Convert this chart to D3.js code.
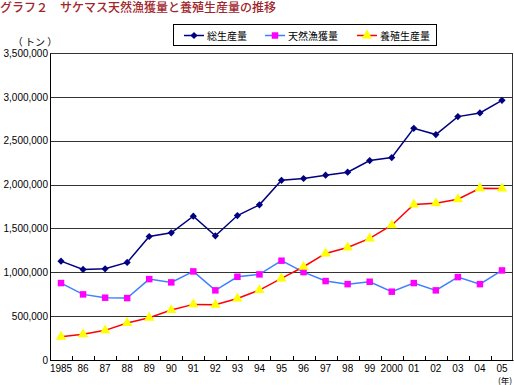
<!DOCTYPE html>
<html>
<head>
<meta charset="utf-8">
<script src="https://cdn.jsdelivr.net/npm/d3@7"></script>
<style>
  body { margin: 0; background: #fff; }
  svg { display: block; }
  .num { font-family: "Liberation Sans", Arial, sans-serif; font-size: 10px; fill: #000; }
  .jp { font-family: "Noto Sans CJK JP", sans-serif; }
</style>
</head>
<body>
<svg id="chart" width="514" height="385"></svg>
<script>
const years = ["1985","86","87","88","89","90","91","92","93","94","95","96","97","98","99","2000","01","02","03","04","05"];
const total = [1127000,1033000,1040000,1112000,1408000,1450000,1640000,1416000,1647000,1769000,2049000,2069000,2107000,2141000,2274000,2308000,2641000,2570000,2775000,2817000,2960000];
const wild = [877000,748000,710000,706000,922000,885000,1010000,794000,949000,976000,1132000,1002000,900000,865000,892000,779000,877000,794000,945000,865000,1021000];
const farmed = [265000,293000,338000,421000,482000,569000,634000,630000,702000,797000,930000,1063000,1215000,1283000,1386000,1537000,1773000,1788000,1833000,1958000,1955000];
const yTicks = [0,500000,1000000,1500000,2000000,2500000,3000000,3500000];
const seriesNames = ["総生産量","天然漁獲量","養殖生産量"];

const svg = d3.select("#chart");
const margin = {left: 50, right: 1, top: 53, bottom: 25};
const width = 514, height = 385;
const innerWidth = width - margin.left - margin.right;
const innerHeight = height - margin.top - margin.bottom;

// title
svg.append("text")
   .attr("class", "jp")
   .attr("x", 0).attr("y", 12)
   .attr("font-size", 12)
   .attr("font-weight", 500)
   .attr("fill", "#a0262c")
   .text("グラフ２　サケマス天然漁獲量と養殖生産量の推移");

svg.append("text")
   .attr("class", "jp")
   .attr("x", 35).attr("y", 46)
   .attr("font-size", 10)
   .attr("text-anchor", "middle")
   .text("（ トン ）");

const g = svg.append("g")
             .attr("transform", `translate(${margin.left}, ${margin.top})`);

const xScale = d3.scaleBand()
                 .domain(years)
                 .range([0, innerWidth]);
const xPos = d => xScale(d) + xScale.bandwidth() / 2;

const yScale = d3.scaleLinear()
                 .domain([0, 3500000])
                 .range([innerHeight, 0]);

// gridlines
g.selectAll(".grid")
 .data(yTicks)
 .enter()
 .append("line")
    .attr("x1", 0).attr("x2", innerWidth)
    .attr("y1", d => Math.round(yScale(d)) + 0.5)
    .attr("y2", d => Math.round(yScale(d)) + 0.5)
    .attr("stroke", "#333")
    .attr("stroke-width", 1);

// right border
g.append("line")
 .attr("x1", innerWidth - 0.5).attr("x2", innerWidth - 0.5)
 .attr("y1", 0).attr("y2", innerHeight)
 .attr("stroke", "#333");

// y axis
const yAxis = d3.axisLeft(yScale)
                .tickValues(yTicks)
                .tickSize(0)
                .tickPadding(2)
                .tickFormat(d3.format(","));
const yg = g.append("g").call(yAxis);
yg.select(".domain").attr("stroke", "#000");
yg.selectAll("text").attr("class", "num");

// x axis
const xAxis = d3.axisBottom(xScale).tickSize(0).tickPadding(5);
const xg = g.append("g")
            .attr("transform", `translate(0, ${innerHeight})`)
            .call(xAxis);
xg.select(".domain").attr("stroke", "#000");
xg.selectAll("text").attr("class", "num");

// category separators (ticks pointing up)
g.selectAll(".xtick")
 .data(years.slice(1))
 .enter()
 .append("line")
    .attr("x1", d => Math.round(xScale(d)) + 0.5)
    .attr("x2", d => Math.round(xScale(d)) + 0.5)
    .attr("y1", innerHeight - 4)
    .attr("y2", innerHeight)
    .attr("stroke", "#000");

svg.append("text")
   .attr("class", "jp")
   .attr("x", 505).attr("y", 384)
   .attr("font-size", 8.5)
   .attr("text-anchor", "middle")
   .text("(年)");

const line = d3.line()
               .x((d, i) => xPos(years[i]))
               .y(d => yScale(d));

const series = [
    {values: total, stroke: "#000080", fill: "#000080", symbol: d3.symbolSquare, size: 26, rotate: 45},
    {values: wild, stroke: "#3f7fff", fill: "#ff00ff", symbol: d3.symbolSquare, size: 42, rotate: 0},
    {values: farmed, stroke: "#ff0000", fill: "#ffff00", symbol: d3.symbolTriangle, size: 46, rotate: 0}
];

series.forEach(s => {
    g.append("path")
     .datum(s.values)
     .attr("fill", "none")
     .attr("stroke", s.stroke)
     .attr("stroke-width", 1.5)
     .attr("d", line);

    g.selectAll(null)
     .data(s.values)
     .enter()
     .append("path")
        .attr("d", d3.symbol().type(s.symbol).size(s.size))
        .attr("transform", (d, i) => `translate(${xPos(years[i])}, ${yScale(d)}) rotate(${s.rotate})`)
        .attr("fill", s.fill);
});

// legend
const legend = svg.append("g");
legend.append("rect")
      .attr("x", 173.5).attr("y", 24.5)
      .attr("width", 263).attr("height", 21)
      .attr("fill", "#fff")
      .attr("stroke", "#000");

const legendX = [184, 265, 357];
series.forEach((s, i) => {
    const lg = legend.append("g").attr("transform", `translate(${legendX[i]}, 35.5)`);
    lg.append("line")
      .attr("x1", 0).attr("x2", 20)
      .attr("stroke", s.stroke)
      .attr("stroke-width", 1.5);
    lg.append("path")
      .attr("d", d3.symbol().type(s.symbol).size(s.size))
      .attr("transform", `translate(10, 0) rotate(${s.rotate})`)
      .attr("fill", s.fill);
    lg.append("text")
      .attr("class", "jp")
      .attr("x", 23).attr("y", 4)
      .attr("font-size", 10)
      .text(seriesNames[i]);
});
</script>
</body>
</html>
